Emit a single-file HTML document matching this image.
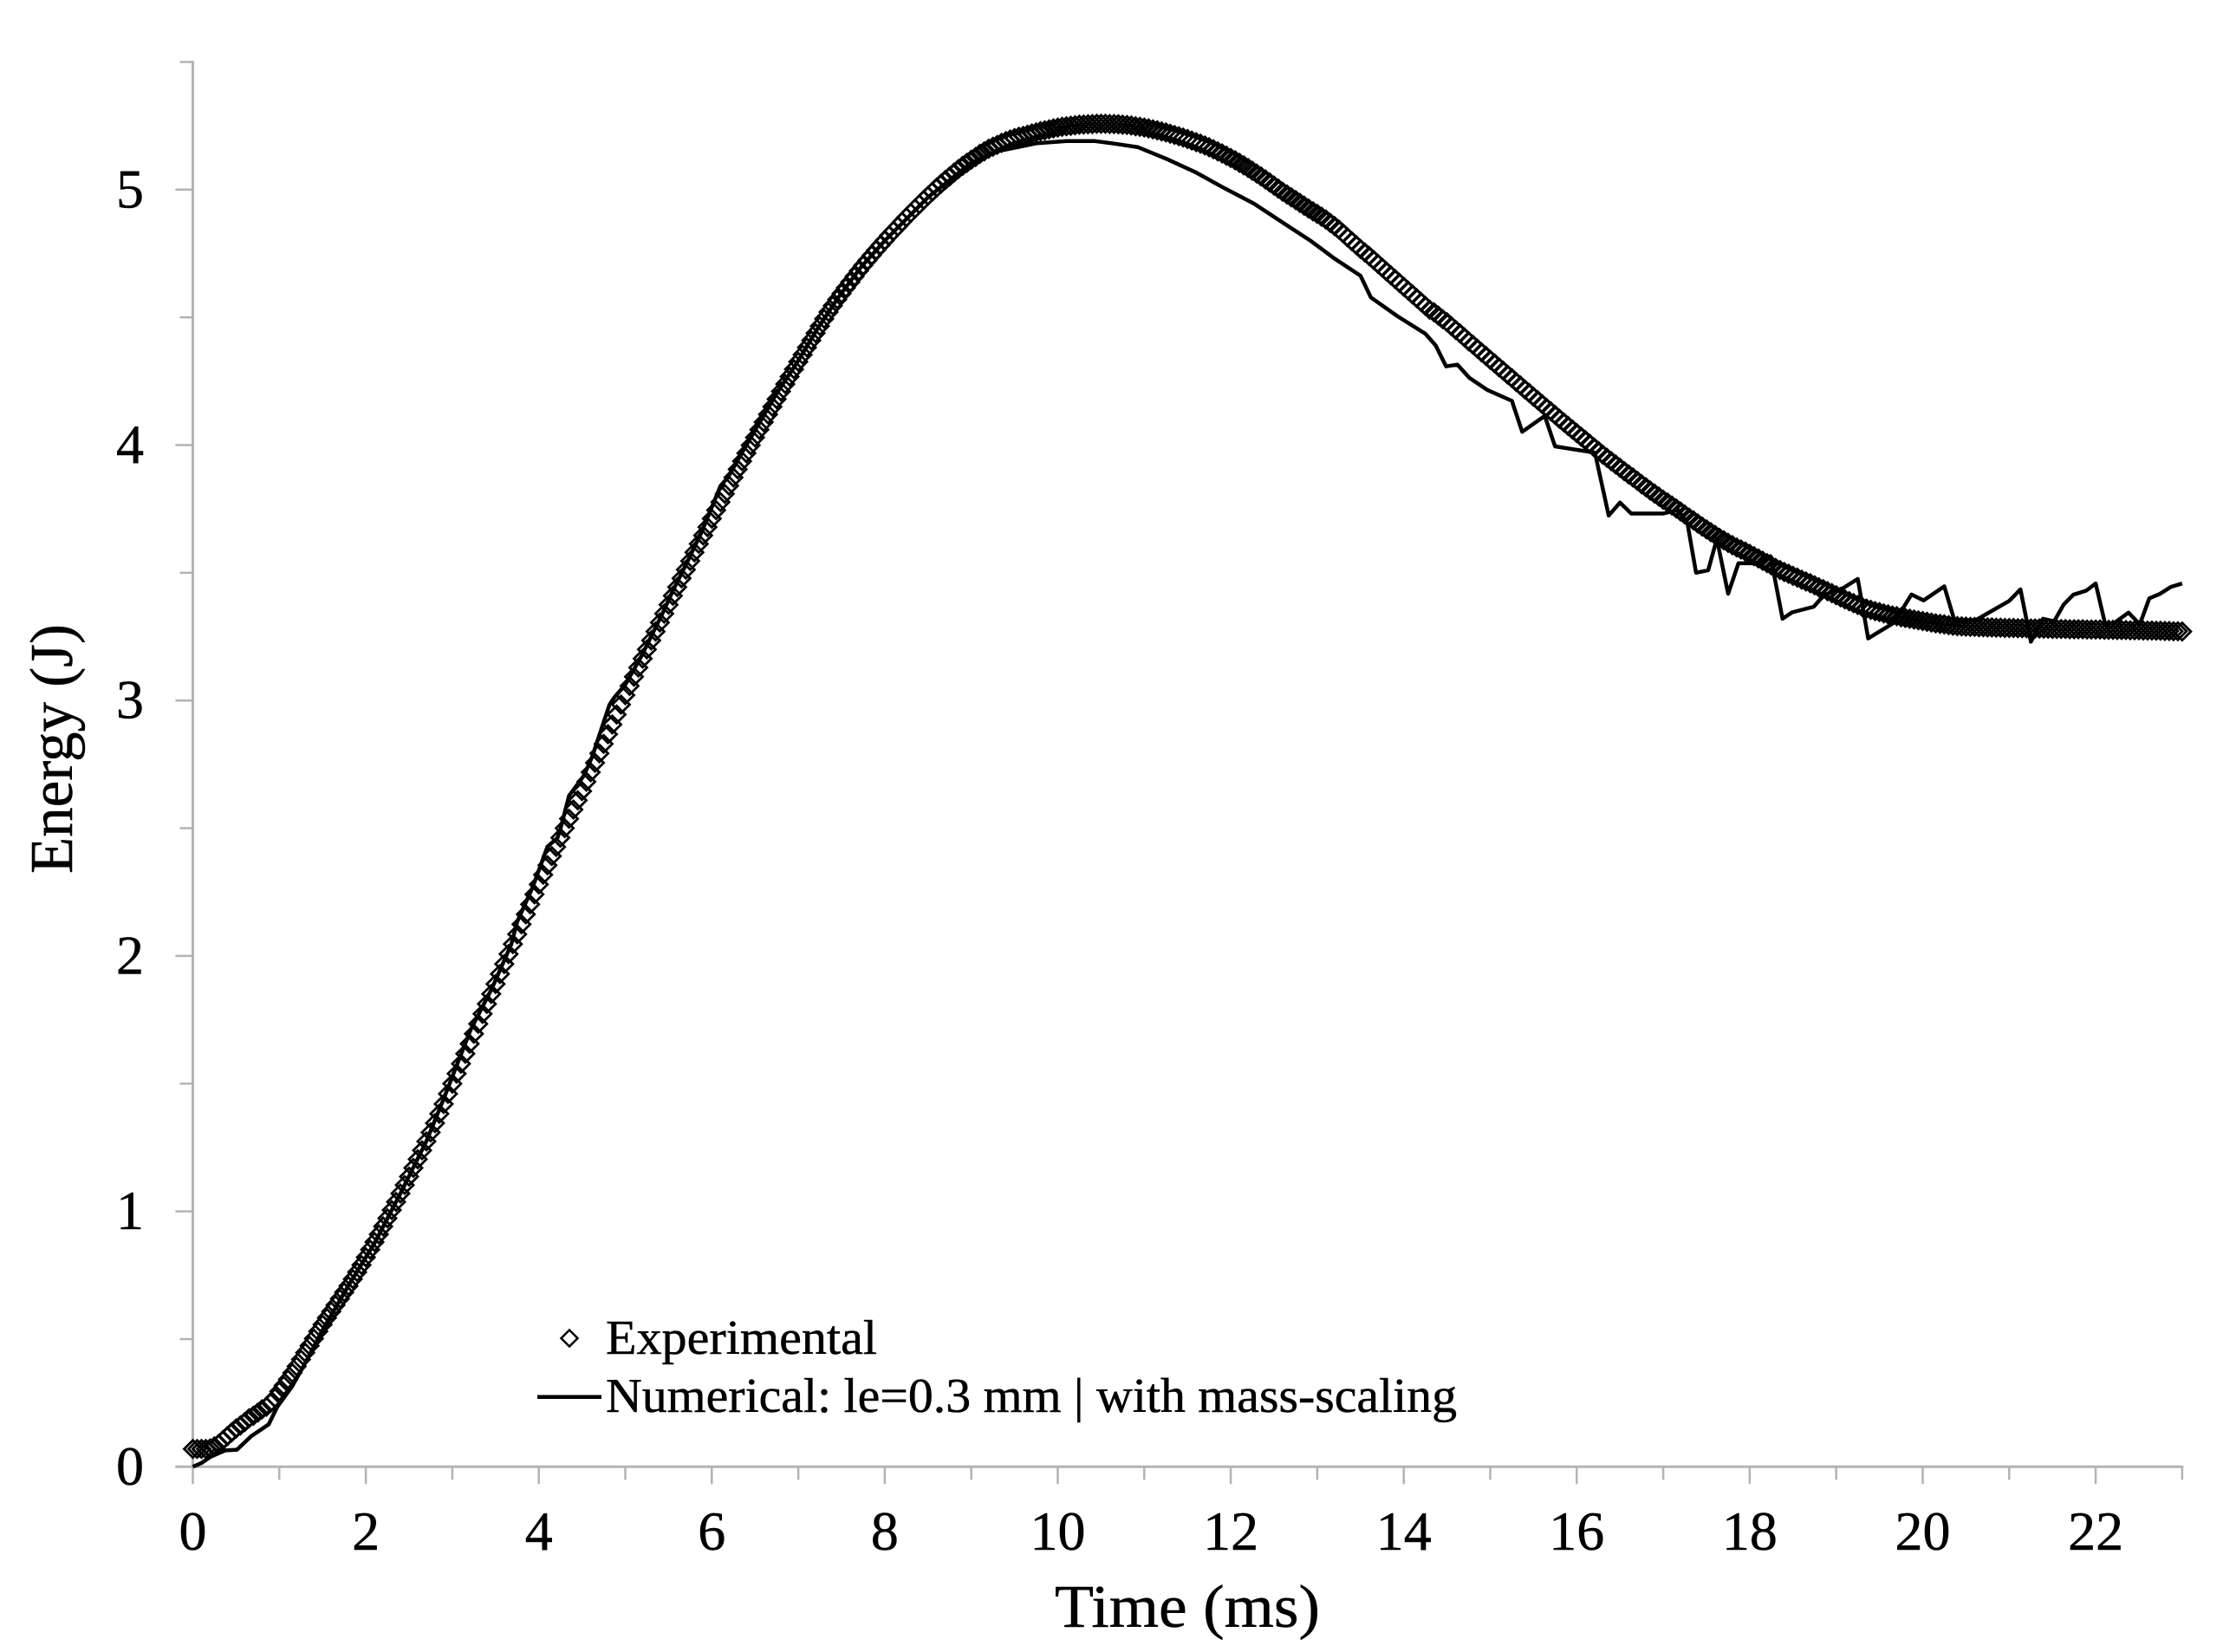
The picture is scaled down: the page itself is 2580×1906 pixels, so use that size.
<!DOCTYPE html>
<html lang="en">
<head>
<meta charset="utf-8">
<title>Energy vs Time</title>
<style>
html,body{margin:0;padding:0;background:#fff;}
svg{display:block;}
text{font-family:"Liberation Serif","DejaVu Serif",serif;fill:#000;stroke:#000;stroke-width:0.5px;}
</style>
</head>
<body>
<svg id="chart" xmlns="http://www.w3.org/2000/svg" width="2580" height="1906" viewBox="0 0 2580 1906">
  <rect x="0" y="0" width="2580" height="1906" fill="#ffffff"/>
  <g id="axes"></g>
  <g id="series-exp" fill="none" stroke="#000" stroke-width="2.8"></g>
  <path id="series-num" fill="none" stroke="#000" stroke-width="4.5" stroke-linejoin="round"/>
  <text transform="translate(83,1008) rotate(-90)" font-size="70" textLength="288" lengthAdjust="spacingAndGlyphs">Energy (J)</text>
  <text x="1217" y="1877" font-size="70" textLength="306" lengthAdjust="spacingAndGlyphs">Time (ms)</text>
  <g>
    <polygon points="657,1534.5 666.5,1544 657,1553.5 647.5,1544" fill="none" stroke="#000" stroke-width="2.5"/>
    <text x="699" y="1562" font-size="56" textLength="313" lengthAdjust="spacingAndGlyphs">Experimental</text>
    <line x1="620" y1="1611.7" x2="694" y2="1611.7" stroke="#000" stroke-width="4.5"/>
    <text x="699" y="1629" font-size="56" textLength="982" lengthAdjust="spacingAndGlyphs">Numerical: le=0.3 mm | with mass-scaling</text>
  </g>
</svg>
<script>
// --- chart data ---
const xTickLabels = ["0","2","4","6","8","10","12","14","16","18","20","22"];
const yTickLabels = ["0","1","2","3","4","5"];
const xMax = 23;
const yMax = 5.5;
const expStep = 0.05;
const expEnergy = [
.07,.07,.07,.07,.072,.08,.09,.105,.12,.135,.15,.162,.175,.19,.2,.212,.225,.235,.25,.27,
.295,.318,.342,.367,.393,.42,.447,.474,.502,.53,.557,.583,.608,.633,.658,.683,.708,.735,.762,.79,
.82,.85,.88,.91,.941,.973,1.005,1.037,1.07,1.103,1.136,1.17,1.204,1.239,1.274,1.309,1.345,1.382,1.42,1.46,
1.5,1.539,1.578,1.617,1.656,1.695,1.734,1.773,1.812,1.851,1.89,1.929,1.968,2.007,2.046,2.085,2.124,2.163,2.202,2.241,
2.28,2.318,2.355,2.391,2.427,2.463,2.5,2.537,2.573,2.609,2.645,2.682,2.719,2.756,2.793,2.83,2.868,2.906,2.945,2.984,
3.021,3.057,3.093,3.129,3.164,3.2,3.235,3.27,3.305,3.34,3.375,3.41,3.444,3.478,3.512,3.546,3.58,3.613,3.646,3.679,
3.712,3.745,3.777,3.809,3.841,3.873,3.905,3.937,3.968,3.999,4.03,4.06,4.09,4.12,4.15,4.18,4.21,4.239,4.268,4.297,
4.326,4.354,4.382,4.41,4.438,4.466,4.494,4.521,4.546,4.57,4.593,4.616,4.638,4.66,4.682,4.703,4.723,4.743,4.763,4.782,
4.801,4.82,4.838,4.856,4.874,4.892,4.909,4.926,4.943,4.96,4.976,4.992,5.008,5.023,5.038,5.052,5.066,5.08,5.093,5.105,
5.117,5.128,5.14,5.15,5.16,5.168,5.175,5.183,5.19,5.196,5.202,5.207,5.21,5.215,5.22,5.224,5.229,5.232,5.236,5.24,
5.243,5.246,5.248,5.25,5.252,5.254,5.255,5.256,5.257,5.258,5.258,5.258,5.257,5.257,5.256,5.254,5.253,5.251,5.248,5.246,
5.243,5.24,5.236,5.232,5.228,5.224,5.219,5.214,5.209,5.204,5.198,5.192,5.186,5.18,5.173,5.166,5.158,5.15,5.142,5.133,
5.124,5.115,5.105,5.095,5.085,5.074,5.063,5.052,5.04,5.028,5.016,5.004,4.992,4.981,4.97,4.959,4.948,4.937,4.926,4.915,
4.905,4.894,4.883,4.87,4.857,4.844,4.829,4.813,4.798,4.783,4.768,4.754,4.74,4.725,4.71,4.695,4.68,4.665,4.65,4.635,
4.62,4.605,4.59,4.575,4.56,4.545,4.53,4.52,4.507,4.493,4.481,4.466,4.451,4.437,4.422,4.407,4.393,4.378,4.363,4.349,
4.334,4.32,4.305,4.291,4.276,4.262,4.247,4.233,4.218,4.204,4.189,4.175,4.16,4.146,4.132,4.118,4.103,4.089,4.075,4.061,
4.047,4.033,4.019,4.005,3.991,3.977,3.963,3.95,3.937,3.924,3.911,3.898,3.885,3.873,3.86,3.847,3.835,3.822,3.81,3.798,
3.786,3.775,3.763,3.752,3.74,3.728,3.716,3.705,3.693,3.681,3.67,3.659,3.648,3.637,3.627,3.617,3.608,3.599,3.591,3.583,
3.574,3.565,3.556,3.547,3.538,3.529,3.519,3.511,3.503,3.496,3.488,3.481,3.473,3.466,3.459,3.451,3.443,3.436,3.428,3.42,
3.412,3.404,3.396,3.389,3.381,3.374,3.366,3.36,3.355,3.35,3.346,3.341,3.337,3.333,3.33,3.326,3.323,3.32,3.317,3.314,
3.311,3.308,3.305,3.302,3.3,3.298,3.295,3.293,3.291,3.29,3.289,3.288,3.288,3.287,3.287,3.286,3.286,3.285,3.285,3.284,
3.284,3.284,3.283,3.283,3.283,3.282,3.282,3.282,3.281,3.281,3.28,3.28,3.28,3.28,3.279,3.279,3.279,3.279,3.278,3.278,
3.278,3.278,3.277,3.277,3.277,3.276,3.276,3.276,3.275,3.275,3.275,3.274,3.274,3.274,3.273,3.273,3.272,3.272,3.271,3.271,
3.27];
const numTime = [0,.1,.21,.376,.51,.676,.877,.977,1.144,1.277,1.5,1.8,2.1,2.4,2.7,2.9,3.21,3.46,3.68,3.75,3.93,4.1,4.216,4.25,4.35,4.52,4.617,4.817,4.868,5.0,5.18,5.42,5.55,5.72,5.89,6.1,6.19,6.35,6.555,6.755,6.99,7.22,7.457,7.72,8.0,8.5,9.0,9.3,9.53,9.76,10.1,10.43,10.66,10.93,11.26,11.6,11.93,12.27,12.6,12.93,13.2,13.5,13.62,13.93,14.25,14.37,14.49,14.62,14.76,14.97,15.25,15.37,15.63,15.75,16.21,16.37,16.5,16.63,17.0,17.17,17.28,17.38,17.52,17.62,17.75,17.87,18.07,18.24,18.38,18.49,18.74,18.86,19.08,19.25,19.37,19.67,19.87,20.01,20.25,20.37,20.62,21.0,21.13,21.25,21.39,21.52,21.63,21.74,21.89,22.0,22.11,22.22,22.38,22.51,22.62,22.74,22.87,23.0];
const numEnergy = [0,.015,.04,.064,.067,.12,.166,.235,.313,.392,.535,.71,.875,1.07,1.275,1.44,1.71,1.874,2.044,2.134,2.27,2.428,2.462,2.496,2.627,2.705,2.78,2.983,3.01,3.062,3.17,3.334,3.43,3.545,3.665,3.84,3.875,3.97,4.09,4.205,4.325,4.455,4.575,4.695,4.80,4.97,5.105,5.15,5.166,5.182,5.19,5.19,5.18,5.166,5.12,5.067,5.005,4.945,4.871,4.798,4.73,4.663,4.578,4.504,4.436,4.39,4.308,4.315,4.263,4.215,4.173,4.052,4.114,3.995,3.97,3.724,3.775,3.732,3.732,3.746,3.695,3.50,3.51,3.633,3.418,3.537,3.537,3.565,3.32,3.345,3.367,3.413,3.44,3.476,3.243,3.305,3.415,3.392,3.447,3.31,3.316,3.39,3.435,3.23,3.32,3.31,3.376,3.414,3.43,3.458,3.298,3.305,3.344,3.298,3.40,3.417,3.445,3.458];

// --- scales ---
const plotX0 = 222.5, plotXPerUnit = 99.8;
const plotY0 = 1692.3, plotYPerUnit = 294.7;
function xScale(t){ return plotX0 + t * plotXPerUnit; }
function yScale(v){ return plotY0 - v * plotYPerUnit; }

const NS = 'http://www.w3.org/2000/svg';
const axes = document.getElementById('axes');
const axisColor = '#b3b3b3';

function makeLine(x1,y1,x2,y2,w){
  const l = document.createElementNS(NS,'line');
  l.setAttribute('x1',x1); l.setAttribute('y1',y1);
  l.setAttribute('x2',x2); l.setAttribute('y2',y2);
  l.setAttribute('stroke',axisColor);
  l.setAttribute('stroke-width',w);
  l.setAttribute('stroke-linecap','round');
  return l;
}

// axis lines
const yAxisLine = makeLine(xScale(0),yScale(yMax),xScale(0),yScale(0),3);


axes.appendChild(yAxisLine);
const xAxisLine = makeLine(xScale(0)-19,yScale(0),xScale(xMax),yScale(0),3);


axes.appendChild(xAxisLine);

// x ticks: major every 2, minor between
for (let t = 0; t <= xMax; t++) {
  const major = t % 2 === 0;
  const tick = makeLine(xScale(t),yScale(0),xScale(t),yScale(0)+(major?19:14),2.5);
  
  
  axes.appendChild(tick);
}
// y ticks: major every 1, minor at 0.5
for (let i = 0; i <= yMax * 2; i++) {
  const v = i / 2;
  const major = i % 2 === 0;
  const tick = makeLine(xScale(0)-(major?19:14),yScale(v),xScale(0),yScale(v),2.5);
  
  
  axes.appendChild(tick);
}
// tick labels
xTickLabels.forEach(function(s){
  const lab = document.createElementNS(NS,'text');
  lab.setAttribute('x',xScale(parseFloat(s)));
  lab.setAttribute('y',yScale(0)+95.5);
  lab.setAttribute('font-size','64');
  lab.setAttribute('text-anchor','middle');
  
  
  lab.textContent = s;
  axes.appendChild(lab);
});
yTickLabels.forEach(function(s){
  const lab = document.createElementNS(NS,'text');
  lab.setAttribute('x',150);
  lab.setAttribute('y',yScale(parseFloat(s))+20.5);
  lab.setAttribute('font-size','64');
  lab.setAttribute('text-anchor','middle');
  
  
  lab.textContent = s;
  axes.appendChild(lab);
});

// experimental diamonds
const expGroup = document.getElementById('series-exp');
const r = 10;
expEnergy.forEach(function(v,i){
  const cx = xScale(i * expStep), cy = yScale(v);
  const d = document.createElementNS(NS,'polygon');
  d.setAttribute('points',[cx,cy-r,cx+r,cy,cx,cy+r,cx-r,cy].map(function(n){return n.toFixed(1);}).join(' '));
  
  
  expGroup.appendChild(d);
});

// numerical line
document.getElementById('series-num').setAttribute('d',
  numTime.map(function(t,i){
    return (i?'L':'M') + xScale(t).toFixed(1) + ' ' + yScale(numEnergy[i]).toFixed(1);
  }).join(' '));
</script>
</body>
</html>
